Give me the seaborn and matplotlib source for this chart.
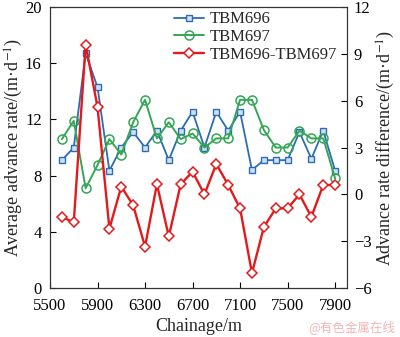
import matplotlib
matplotlib.use("Agg")
import matplotlib.pyplot as plt
import seaborn as sns
import pandas as pd

chainage = [5600, 5700, 5800, 5900, 6000, 6100, 6200, 6300, 6400, 6500, 6600, 6700,
            6800, 6900, 7000, 7100, 7200, 7300, 7400, 7500, 7600, 7700, 7800, 7900]
tbm696 = [9.1, 10.0, 16.7, 14.3, 8.35, 10.0, 11.1, 10.0, 11.2, 9.1, 11.2, 12.55,
          10.0, 12.55, 11.2, 12.55, 8.4, 9.1, 9.1, 9.1, 11.1, 9.2, 11.2, 8.35]
tbm697 = [10.6, 11.9, 7.1, 8.75, 10.6, 9.5, 11.8, 13.4, 10.65, 11.8, 10.6, 11.0,
          10.0, 10.65, 10.65, 13.4, 13.4, 11.25, 10.0, 10.0, 11.2, 10.65, 10.65, 7.8]
diff = [-1.45, -1.8, 9.6, 5.6, -2.2, 0.5, -0.7, -3.35, 0.65, -2.7, 0.65, 1.45,
        0.0, 1.95, 0.6, -0.9, -5.05, -2.1, -0.9, -0.9, 0.0, -1.45, 0.6, 0.6]

x_ticks = [5500, 5900, 6300, 6700, 7100, 7500, 7900]
left_ticks = [0, 4, 8, 12, 16, 20]
right_ticks = [-6, -3, 0, 3, 6, 9, 12]

sns.set_theme(style="ticks")
plt.rcParams['font.family'] = ['Liberation Serif', 'Noto Sans CJK SC']
plt.rcParams['mathtext.fontset'] = 'stix'
plt.rcParams['xtick.direction'] = 'in'
plt.rcParams['ytick.direction'] = 'in'

df = pd.DataFrame({"chainage": chainage, "TBM696": tbm696, "TBM697": tbm697, "diff": diff})

fig = plt.figure(figsize=(4.0, 3.37), dpi=100)
ax = fig.add_axes([0.125, 0.1454, 0.7425, 0.8336])
ax2 = ax.twinx()

blue = "#2c6cb4"
green = "#34a655"
red = "#e31a1c"
fs = 12
lfs = 13

sns.lineplot(data=df, x="chainage", y="TBM696", ax=ax, color=blue, marker="s",
             markersize=5, markerfacecolor="#cfe0f5", markeredgecolor=blue,
             markeredgewidth=1.0, linewidth=1.3, label="TBM696", legend=False)
sns.lineplot(data=df, x="chainage", y="TBM697", ax=ax, color=green, marker="o",
             markersize=6.5, markerfacecolor="none", markeredgecolor=green,
             markeredgewidth=1.1, linewidth=1.4, label="TBM697", legend=False)
sns.lineplot(data=df, x="chainage", y="diff", ax=ax2, color=red, marker="D",
             markersize=5.5, markerfacecolor="white", markeredgecolor=red,
             markeredgewidth=1.1, linewidth=1.7, label="TBM696-TBM697", legend=False)

ax.set_xlim(5500, 8000)
ax.set_ylim(0, 20)
ax2.set_ylim(-6, 12)
ax.set_xticks(x_ticks)
ax.set_yticks(left_ticks)
ax2.set_yticks(right_ticks)
ax.set_xticklabels([str(t) for t in x_ticks], fontsize=fs)
ax.set_yticklabels([str(t) for t in left_ticks], fontsize=fs)
ax2.set_yticklabels([str(t).replace('-', '\u2212') for t in right_ticks], fontsize=fs)

ax.set_xlabel("Chainage/m", fontsize=lfs, labelpad=3)
ax.set_ylabel("Average advance rate/(m·d$^{-1}$)", fontsize=lfs, labelpad=0)
ax2.set_ylabel("Advance rate difference/(m·d$^{-1}$)", fontsize=lfs, labelpad=2)

for a in (ax, ax2):
    a.tick_params(length=4, width=0.8, pad=2, colors="black")
    for s in a.spines.values():
        s.set_linewidth(0.8)
        s.set_color("#333333")
ax.tick_params(axis='x', top=False, pad=7)
ax.tick_params(axis='y', pad=6)
ax2.tick_params(axis='y', pad=5)

h1, l1 = ax.get_legend_handles_labels()
h2, l2 = ax2.get_legend_handles_labels()
ax2.legend(h1 + h2, l1 + l2, loc="upper left", bbox_to_anchor=(0.385, 1.02),
           frameon=False, fontsize=fs, handlelength=1.8, handletextpad=0.3,
           labelspacing=0.1, borderaxespad=0.2)

fig.text(0.988, 0.03, "@有色金属在线", ha="right", va="center", fontsize=9,
         color="#f2b6b6", family=["Noto Sans CJK SC", "DejaVu Sans"])

fig.savefig("out.png", dpi=100)
